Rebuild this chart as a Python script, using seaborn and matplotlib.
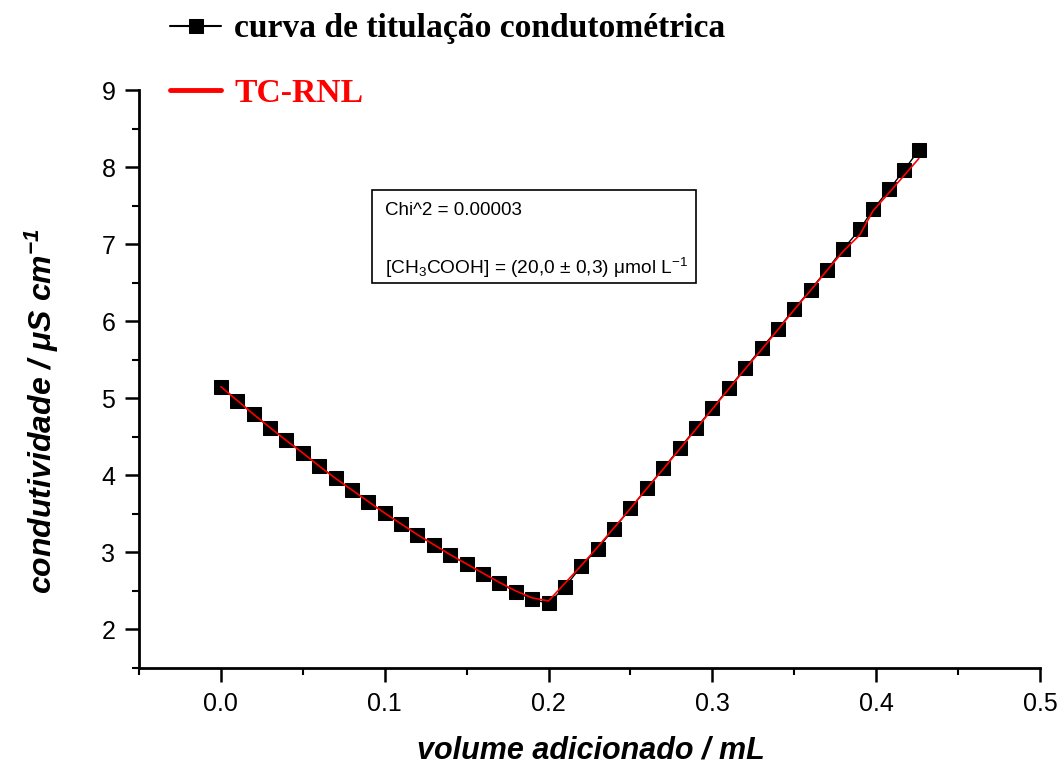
import matplotlib
matplotlib.use("Agg")
import matplotlib.pyplot as plt
import seaborn as sns
from matplotlib.patches import Rectangle
from matplotlib.ticker import MultipleLocator

# titration data (volume in mL, conductivity in uS/cm)
volume = [0.00, 0.01, 0.02, 0.03, 0.04, 0.05, 0.06, 0.07, 0.08, 0.09, 0.10,
          0.11, 0.12, 0.13, 0.14, 0.15, 0.16, 0.17, 0.18, 0.19, 0.20,
          0.21, 0.22, 0.23, 0.24, 0.25, 0.26, 0.27, 0.28, 0.29, 0.30,
          0.31, 0.32, 0.33, 0.34, 0.35, 0.36, 0.37, 0.38, 0.39,
          0.398, 0.408, 0.417, 0.426]
condutividade = [5.15, 4.97, 4.79, 4.62, 4.46, 4.29, 4.12, 3.96, 3.81, 3.65, 3.51,
                 3.37, 3.23, 3.10, 2.96, 2.85, 2.72, 2.60, 2.49, 2.39, 2.34,
                 2.55, 2.82, 3.05, 3.31, 3.57, 3.83, 4.09, 4.35, 4.61, 4.87,
                 5.13, 5.39, 5.65, 5.90, 6.16, 6.41, 6.67, 6.94, 7.19,
                 7.45, 7.71, 7.96, 8.22]
# non-linear regression curve (TC-RNL)
ajuste = [5.15, 4.97, 4.79, 4.62, 4.45, 4.29, 4.12, 3.96, 3.81, 3.66, 3.51,
          3.37, 3.23, 3.10, 2.97, 2.85, 2.73, 2.61, 2.50, 2.41, 2.37,
          2.60, 2.83, 3.07, 3.32, 3.57, 3.83, 4.08, 4.34, 4.60, 4.86,
          5.12, 5.38, 5.63, 5.89, 6.15, 6.40, 6.66, 6.91, 7.12,
          7.43, 7.67, 7.89, 8.11]

sns.set_style("ticks")
plt.rcParams["font.family"] = ["Liberation Sans", "DejaVu Sans"]
plt.rcParams["mathtext.default"] = "regular"
plt.rcParams["text.color"] = "black"
plt.rcParams["axes.labelcolor"] = "black"
plt.rcParams["xtick.color"] = "black"
plt.rcParams["ytick.color"] = "black"

fig = plt.figure(figsize=(10.61, 7.65), dpi=100)
ax = fig.add_axes([139 / 1061, 97 / 765, 901 / 1061, 578 / 765])

sns.lineplot(x=volume, y=condutividade, color="black", lw=1, marker="s",
             markersize=10.5, markeredgecolor="black",
             label="curva de titulação condutométrica", ax=ax)
sns.lineplot(x=volume, y=ajuste, color="red", lw=1.2, label="TC-RNL", ax=ax)

ax.set_xlim(-0.05, 0.5)
ax.set_ylim(1.5, 9)
ax.xaxis.set_minor_locator(MultipleLocator(0.05))
ax.yaxis.set_major_locator(MultipleLocator(1))
ax.yaxis.set_minor_locator(MultipleLocator(0.5))
ax.set_xticks([0.0, 0.1, 0.2, 0.3, 0.4, 0.5])
ax.set_xticklabels(["0.0", "0.1", "0.2", "0.3", "0.4", "0.5"])
ax.tick_params(which="major", length=10, width=1.8, labelsize=18, pad=7,
               direction="out", colors="black")
ax.tick_params(which="minor", length=5, width=1.5, direction="out", colors="black")
for s in ["left", "bottom"]:
    ax.spines[s].set_linewidth(2)
    ax.spines[s].set_color("black")
sns.despine(ax=ax)

ax.set_xlabel("volume adicionado / mL", fontsize=22, fontweight="bold",
              fontstyle="italic")
ax.set_ylabel("condutividade / μS cm$^{-1}$", fontsize=23, fontweight="bold",
              fontstyle="italic")
ax.xaxis.set_label_coords(0.502, -0.117)
ax.yaxis.set_label_coords(-0.087, 0.445)

# results box
ax.add_patch(Rectangle((0.2586, 0.666), 0.3596, 0.161, transform=ax.transAxes,
                       fill=False, edgecolor="black", lw=1.2))
ax.text(0.273, 0.792, "Chi^2 = 0.00003", transform=ax.transAxes,
        fontsize=13.5, va="center", ha="left")
ax.text(0.273, 0.692, "[CH$_3$COOH] = (20,0 ± 0,3) μmol L$^{-1}$",
        transform=ax.transAxes, fontsize=13.8, va="center", ha="left")

leg = ax.legend(loc="upper left", bbox_to_anchor=(157 / 1061, 1.0),
                bbox_transform=fig.transFigure, frameon=False,
                prop={"family": ["Liberation Serif", "DejaVu Serif"],
                      "weight": "bold", "size": 24.2},
                handlelength=1.5, handletextpad=0.4, labelspacing=1.0,
                borderaxespad=0.2, borderpad=0.2)
leg.get_texts()[0].set_color("black")
leg.get_texts()[1].set_color("red")
handles = leg.legend_handles
handles[0].set_linewidth(1.5)
handles[1].set_linewidth(3.5)

fig.savefig("out.png", dpi=100)
